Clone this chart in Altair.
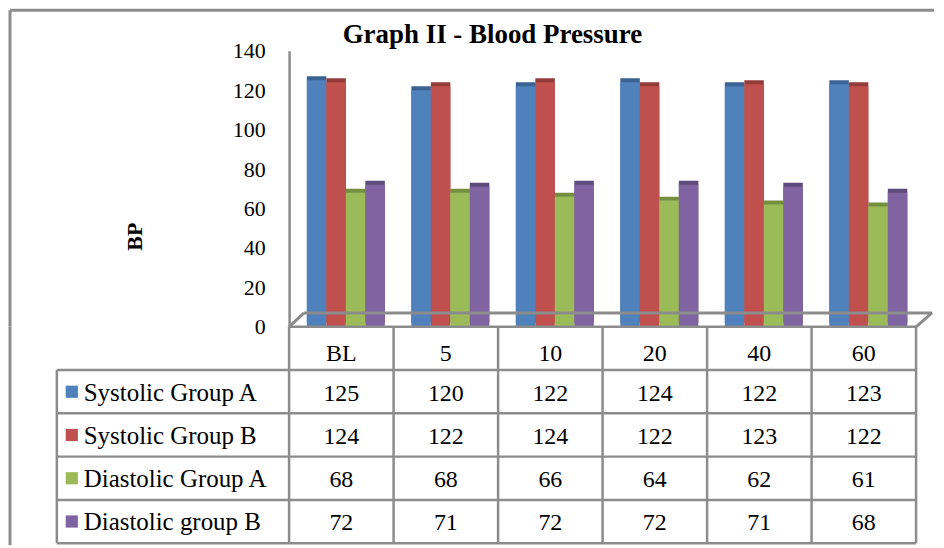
import altair as alt
import pandas as pd

title_text = "Graph II - Blood Pressure"
categories = ["BL", "5", "10", "20", "40", "60"]
series = ["Systolic Group A", "Systolic Group B", "Diastolic Group A", "Diastolic group B"]
systolic_a = [125, 120, 122, 124, 122, 123]
systolic_b = [124, 122, 124, 122, 123, 122]
diastolic_a = [68, 68, 66, 64, 62, 61]
diastolic_b = [72, 71, 72, 72, 71, 68]
y_ticks = [0, 20, 40, 60, 80, 100, 120, 140]

colors = ["#4F81BD", "#C0504D", "#9BBB59", "#8064A2"]
side_colors = ["#3A6293", "#933C3A", "#74903F", "#5E4A7A"]

rows = []
for s, vals in zip(series, [systolic_a, systolic_b, diastolic_a, diastolic_b]):
    for c, v in zip(categories, vals):
        rows.append({"category": c, "series": s, "value": v, "label": str(v)})
df = pd.DataFrame(rows)
header_df = pd.DataFrame({"category": categories, "series": ["header"] * len(categories),
                          "label": categories})
series_df = pd.DataFrame({"series": series})
cat_df = pd.DataFrame({"category": categories})

W = 629
H_PLOT = 277
H_TABLE = 217
FONT = "Liberation Serif"
GRID = "#8c8c8c"

xscale = alt.Scale(domain=categories, paddingInner=0, paddingOuter=0)
offscale = alt.Scale(domain=series, paddingInner=0, paddingOuter=0.68, align=0.67)
yscale = alt.Scale(domain=[0, 140])
cscale = alt.Scale(domain=series, range=colors)
cscale_side = alt.Scale(domain=series, range=side_colors)

yaxis = alt.Axis(values=y_ticks, ticks=False, grid=False, labelFont=FONT, labelFontSize=22,
                 labelColor="black", labelPadding=24, labelOverlap=False, labelFlush=False,
                 domainColor=GRID, domainWidth=2.5,
                 title="BP", titleFont=FONT, titleFontSize=22, titleFontWeight="bold",
                 titleColor="black", titleX=-155, titleY=186, titleAlign="center",
                 titleBaseline="middle", titleAngle=-90)

X = alt.X("category:N", scale=xscale, sort=categories, axis=None)
XO = alt.XOffset("series:N", scale=offscale, sort=series)
Y = alt.Y("value:Q", scale=yscale, axis=yaxis)
Y0 = alt.Y(datum=0, scale=yscale, axis=yaxis)

side = alt.Chart(df).mark_bar(xOffset=5, x2Offset=5, yOffset=-4, y2Offset=-4).encode(
    x=X, xOffset=XO, y=Y,
    color=alt.Color("series:N", scale=cscale_side, legend=None))
front = alt.Chart(df).mark_bar().encode(
    x=X, xOffset=XO, y=Y,
    color=alt.Color("series:N", scale=cscale, legend=None))

deco = alt.Chart(pd.DataFrame({"k": [0]}))
floor_back = deco.mark_rule(color=GRID, strokeWidth=3, yOffset=-14).encode(
    y=Y0, x=alt.value(15), x2=alt.value(W + 16))
floor_left = deco.mark_rule(color=GRID, strokeWidth=3, y2Offset=-14).encode(
    y=Y0, y2=alt.Y2(datum=0), x=alt.value(0), x2=alt.value(15))
floor_right = deco.mark_rule(color=GRID, strokeWidth=3, y2Offset=-14).encode(
    y=Y0, y2=alt.Y2(datum=0), x=alt.value(W), x2=alt.value(W + 16))
floor_front = deco.mark_rule(color=GRID, strokeWidth=2.5).encode(
    y=Y0, x=alt.value(0), x2=alt.value(W))
border_top = deco.mark_rule(color=GRID, strokeWidth=3).encode(
    x=alt.value(-280), x2=alt.value(W + 18), y=alt.value(-40.5))
border_left_top = deco.mark_rule(color=GRID, strokeWidth=3).encode(
    x=alt.value(-280), y=alt.value(-40.5), y2=alt.value(H_PLOT))
title_mark = alt.Chart(pd.DataFrame({"t": [title_text]})).mark_text(
    font=FONT, fontSize=27, fontWeight="bold", color="black", align="center",
    baseline="alphabetic").encode(x=alt.value(204), y=alt.value(-8), text="t:N")

top = alt.layer(side, front, floor_back, floor_left, floor_right, floor_front,
                border_top, border_left_top, title_mark).resolve_scale(
    color="independent").properties(width=W, height=H_PLOT)

# ---- data table ----
ydom = ["header"] + series
tscale = alt.Scale(domain=ydom, paddingInner=0, paddingOuter=0)

values_text = alt.Chart(df).mark_text(font=FONT, fontSize=24, baseline="middle", dy=2).encode(
    x=alt.X("category:N", scale=xscale, sort=categories, axis=None, bandPosition=0.5),
    y=alt.Y("series:N", scale=tscale, sort=ydom, axis=None, bandPosition=0.5),
    text="label:N")
header_text = alt.Chart(header_df).mark_text(font=FONT, fontSize=24, baseline="middle", dy=6).encode(
    x=alt.X("category:N", scale=xscale, sort=categories, axis=None, bandPosition=0.5),
    y=alt.Y("series:N", scale=tscale, sort=ydom, axis=None, bandPosition=0.5),
    text="label:N")
legend_text = alt.Chart(series_df).mark_text(font=FONT, fontSize=25, baseline="middle",
                                             align="left", x=-206, dy=1).encode(
    y=alt.Y("series:N", scale=tscale, sort=ydom, axis=None, bandPosition=0.5),
    text="series:N")
legend_swatch = alt.Chart(series_df).mark_square(size=150, opacity=1, x=-218, dy=0).encode(
    y=alt.Y("series:N", scale=tscale, sort=ydom, axis=None, bandPosition=0.5),
    color=alt.Color("series:N", scale=cscale, legend=None))

vlines = alt.Chart(cat_df).mark_rule(color=GRID, strokeWidth=2.5).encode(
    x=alt.X("category:N", scale=xscale, sort=categories, axis=None, bandPosition=0),
    y=alt.value(0), y2=alt.value(H_TABLE))
vline_right = deco.mark_rule(color=GRID, strokeWidth=2.5).encode(
    x=alt.value(W), y=alt.value(0), y2=alt.value(H_TABLE))
hlines = alt.Chart(series_df).mark_rule(color=GRID, strokeWidth=2.5).encode(
    y=alt.Y("series:N", scale=tscale, sort=ydom, axis=None, bandPosition=0),
    x=alt.value(-233), x2=alt.value(W))
hline_bottom = deco.mark_rule(color=GRID, strokeWidth=2.5).encode(
    y=alt.value(H_TABLE), x=alt.value(-233), x2=alt.value(W))
vline_legend = alt.Chart(series_df.head(1)).mark_rule(color=GRID, strokeWidth=2.5).encode(
    x=alt.value(-233),
    y=alt.Y("series:N", scale=tscale, sort=ydom, axis=None, bandPosition=0),
    y2=alt.value(H_TABLE))
border_left_bottom = deco.mark_rule(color=GRID, strokeWidth=3).encode(
    x=alt.value(-280), y=alt.value(0), y2=alt.value(H_TABLE + 2))

table = alt.layer(border_left_bottom, vlines, vline_right, hlines, hline_bottom, vline_legend,
                  values_text, header_text, legend_swatch, legend_text).properties(
    width=W, height=H_TABLE)

chart = alt.vconcat(top, table, spacing=0, bounds="flush").resolve_scale(
    color="independent").properties(
    padding={"left": 0, "top": 0, "right": 0, "bottom": 0}
).configure_view(stroke=None)

chart.save("out.html", embed_options={"renderer": "svg", "actions": False})
